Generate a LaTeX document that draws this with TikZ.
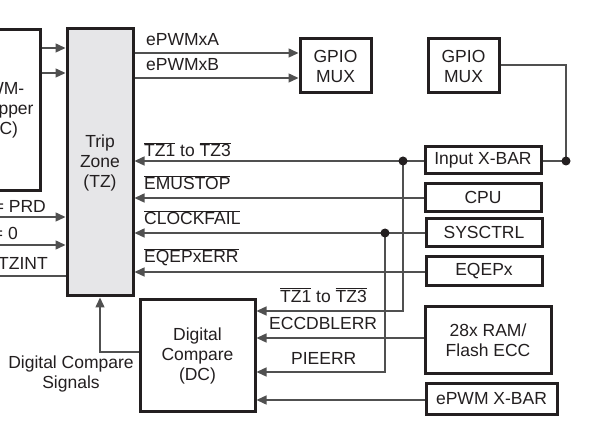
\documentclass[tikz,border=0pt]{standalone}
\usepackage{fontspec}
\setmainfont{Liberation Sans}
\usetikzlibrary{arrows.meta}
\definecolor{boxc}{HTML}{231F20}
\definecolor{txtc}{HTML}{231F20}
\definecolor{linec}{HTML}{505050}
\definecolor{tzfill}{HTML}{E6E6E8}
\newcommand\ovl[1]{$\overline{\mbox{#1}}$}
\begin{document}
\begin{tikzpicture}[x=1pt,y=-1pt,
  font=\fontsize{17.5}{20}\selectfont,
  box/.style={draw=boxc, line width=3pt, inner sep=0pt, align=center, fill=white, text=txtc},
  ln/.style={draw=linec, line width=1.4pt},
  arr/.style={ln, -{Triangle[length=10pt,width=9pt]}},
  lbl/.style={anchor=base west, inner sep=0pt, text=txtc},
  lblr/.style={anchor=base east, inner sep=0pt, text=txtc},
  jdot/.style={circle, fill=txtc, inner sep=0pt, minimum size=9pt}]
\fill[white] (0,0) rectangle (590,433);
\useasboundingbox (0,0) rectangle (590,433);

% boxes
\node[box, minimum width=80pt, minimum height=161pt] (pc) at (0,110.5) {PWM-\\Chopper\\(PC)};
\node[box, fill=tzfill, minimum width=66pt, minimum height=267pt] (tz) at (100,162.5) {Trip\\Zone\\(TZ)};
\node[box, minimum width=71pt, minimum height=54pt] (gpio1) at (335.5,66) {GPIO\\MUX};
\node[box, minimum width=71pt, minimum height=54pt] (gpio2) at (463.5,66) {GPIO\\MUX};
\node[box, minimum width=116pt, minimum height=27pt] (ixbar) at (483,160.5) {Input X-BAR};
\node[box, minimum width=116pt, minimum height=28pt] (cpu) at (483,197.5) {CPU};
\node[box, minimum width=116pt, minimum height=28pt] (sysctrl) at (484,232.5) {SYSCTRL};
\node[box, minimum width=116pt, minimum height=29pt] (eqepx) at (484,271.5) {EQEPx};
\node[box, minimum width=126pt, minimum height=66pt] (ram) at (488,340) {28x RAM/\\Flash ECC};
\node[box, minimum width=131pt, minimum height=31pt] (epxbar) at (491.5,399) {ePWM X-BAR};
\node[box, minimum width=115pt, minimum height=111pt] (dc) at (197.5,355.5) {Digital\\Compare\\(DC)};

% junctions
\coordinate (j1) at (566,161);
\coordinate (j2) at (403,161);
\coordinate (j3) at (385,233);
\coordinate (sw) at (-10,0);

% PC -> TZ
\draw[arr] (pc.east |- 0,48) -- (tz.west |- 0,48);
\draw[arr] (pc.east |- 0,73) -- (tz.west |- 0,73);
% left inputs
\draw[arr] (sw |- 0,217) -- (tz.west |- 0,217);
\draw[arr] (sw |- 0,245) -- (tz.west |- 0,245);
\draw[ln] (sw |- 0,276) -- (tz.west |- 0,276);
\node[lblr] (lprd) at (46,213) {CTR = PRD};
\node[lblr] (lzero) at (18,240) {CTR = 0};
\node[lblr] (ltzint) at (48,270) {EPWMxTZINT};

% TZ -> GPIO MUX
\draw[arr] (tz.east |- 0,53) -- (gpio1.west |- 0,53);
\draw[arr] (tz.east |- 0,78) -- (gpio1.west |- 0,78);
\node[lbl] (la) at (146,46) {ePWMxA};
\node[lbl] (lb) at (146,71) {ePWMxB};

% GPIO MUX 2 -> Input X-BAR junction
\draw[ln] (gpio2.east |- 0,65) -| (j1) -- (ixbar.east |- j1);

% into TZ
\draw[arr] (ixbar.west |- j1) -- (tz.east |- j1);
\draw[arr] (cpu.west |- 0,198) -- (tz.east |- 0,198);
\draw[arr] (sysctrl.west |- j3) -- (tz.east |- j3);
\draw[arr] (eqepx.west |- 0,272) -- (tz.east |- 0,272);
\node[lbl] (ltz1) at (144,157) {\ovl{TZ1} to \ovl{TZ3}};
\node[lbl] (lemu) at (144,190) {\ovl{EMUSTOP}};
\node[lbl] (lclk) at (144,225) {\ovl{CLOCKFAIL}};
\node[lbl] (leqep) at (144,263) {\ovl{EQEPxERR}};

% into DC
\draw[arr] (j2) |- (dc.east |- 0,311);
\draw[arr] (ram.west |- 0,338) -- (dc.east |- 0,338);
\draw[arr] (j3) |- (dc.east |- 0,372);
\draw[arr] (epxbar.west |- 0,400) -- (dc.east |- 0,400);
\node[lbl] (ltz2) at (280,302) {\ovl{TZ1} to \ovl{TZ3}};
\node[lbl] (lecc) at (269,330) {ECCDBLERR};
\node[lbl] (lpie) at (291,364) {PIEERR};

% DC -> TZ
\draw[arr] (dc.west |- 0,352) -| (tz.south);
\node[align=center, inner sep=0pt, text=txtc] (ldcs) at (71,374) {Digital Compare\\Signals};

% dots
\node[jdot] at (j1) {};
\node[jdot] at (j2) {};
\node[jdot] at (j3) {};
\end{tikzpicture}
\end{document}
